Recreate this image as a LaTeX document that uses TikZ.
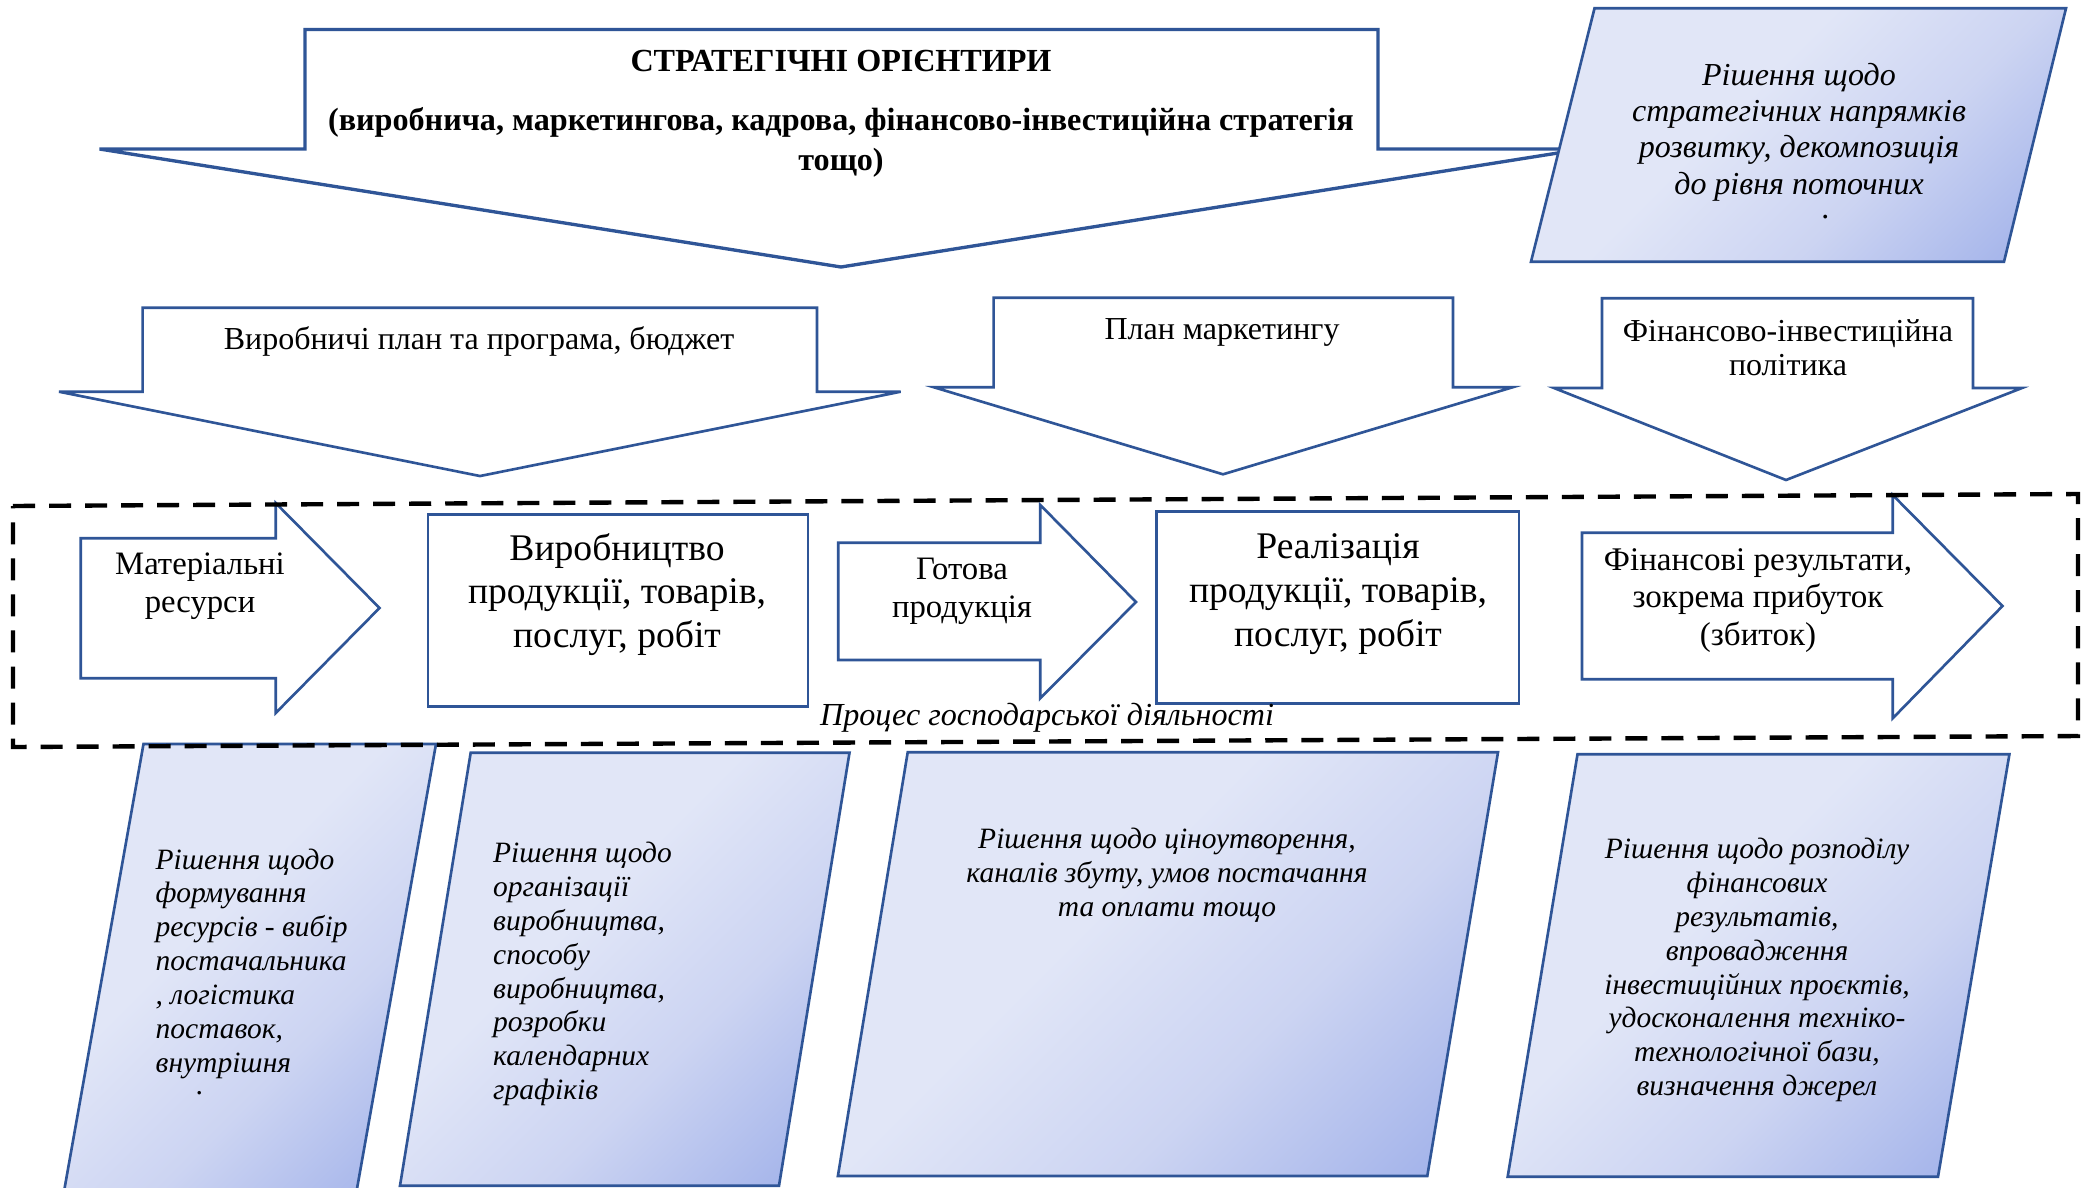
\documentclass[tikz,border=0pt]{standalone}
\usepackage{fontspec}
\setmainfont{Liberation Serif}
\definecolor{bordblue}{RGB}{47,85,151}
\definecolor{pdk}{RGB}{158,175,233}
\definecolor{pmid}{RGB}{204,212,242}
\definecolor{plt}{RGB}{225,230,247}
\pgfdeclareverticalshading{parashade}{100bp}{color(0bp)=(pdk); color(16bp)=(pdk); color(39bp)=(pmid); color(58bp)=(plt); color(100bp)=(plt)}
\newcommand{\fs}[2]{\fontsize{#1}{#2}\selectfont}
\begin{document}
\begin{tikzpicture}[x=0.01cm,y=-0.01cm,
  bigarrow/.style={draw=bordblue, fill=white, line width=0.95pt, line join=miter},
  warrow/.style={draw=bordblue, fill=white, line width=0.75pt, line join=miter},
  para/.style={draw=bordblue, line width=0.75pt, shading=parashade, shading angle=45},
  lbl/.style={inner sep=0pt, anchor=base, align=center},
  ttl/.style={lbl, font=\bfseries\fs{9.15pt}{11.1pt}},
  reg/.style={lbl, font=\fs{9.1pt}{9.4pt}},
  procfont/.style={lbl, font=\fs{9.3pt}{10.8pt}},
  bigfont/.style={lbl, font=\fs{10.7pt}{12.4pt}},
  itTR/.style={lbl, font=\itshape\fs{9.1pt}{10.24pt}},
  itP/.style={lbl, font=\itshape\fs{8.39pt}{9.62pt}},
  dashrect/.style={draw=black, line width=1.25pt, dash pattern=on 0.22cm off 0.14cm}
]
\path[use as bounding box] (0,0) rectangle (2093,1187);
\clip (0,0) rectangle (2093,1187);
\fill[white] (0,0) rectangle (2093,1187);

% top big arrow
\draw[bigarrow] (99.5,149) -- (305,149) -- (305,29.5) -- (1378,29.5) -- (1378,149) -- (1583,149) -- (841,267) -- cycle;
\node[ttl] (title) at (841,71.5) {СТРАТЕГІЧНІ ОРІЄНТИРИ};
\node[ttl] (subtitle) at (841,170) {(виробнича, маркетингова, кадрова, фінансово-інвестиційна стратегія\\тощо)};

% top-right parallelogram
\shadedraw[para] (1594.5,8.3) -- (2066,8.3) -- (2004,261.7) -- (1531,261.7) -- cycle;
\node[itTR] (trtext) at (1799,194) {Рішення щодо\\стратегічних напрямків\\розвитку, декомпозиція\\до рівня поточних};
\node[itTR] (trdot) at (1826,218) {.};

% second row arrows
\draw[warrow] (59,391.7) -- (142.6,391.7) -- (142.6,307.7) -- (817,307.7) -- (817,391.7) -- (900.7,391.7) -- (480,476) -- cycle;
\node[reg] (plan1) at (479,349) {Виробничі план та програма, бюджет};
\draw[warrow] (934,387.3) -- (993.6,387.3) -- (993.6,297.7) -- (1453,297.7) -- (1453,387.3) -- (1512.5,387.3) -- (1223,474.3) -- cycle;
\node[reg] (plan2) at (1222,339) {План маркетингу};
\draw[warrow] (1554,388) -- (1602,388) -- (1602,298.3) -- (1973,298.3) -- (1973,388) -- (2022,388) -- (1786,480) -- cycle;
\node[reg] (plan3) at (1788,375) {Фінансово-інвестиційна\\політика};

% bottom parallelograms
\shadedraw[para] (143.5,744) -- (436,744) -- (355,1200) -- (62.5,1200) -- cycle;
\node[itP, anchor=base west, align=left] (p1text) at (155,1072) {Рішення щодо\\формування\\ресурсів - вибір\\постачальника\\, логістика\\поставок,\\внутрішня};
\node[itP] (p1dot) at (200,1094) {.};
\shadedraw[para] (470.7,752.7) -- (849.5,752.7) -- (779,1185.7) -- (400,1185.7) -- cycle;
\node[itP, anchor=base west, align=left] (p2text) at (492.5,1099.6) {Рішення щодо\\організації\\виробництва,\\способу\\виробництва,\\розробки\\календарних\\графіків};
\shadedraw[para] (907.7,752.3) -- (1498,752.3) -- (1427.3,1176) -- (837.9,1176) -- cycle;
\node[itP] (p3text) at (1167,916.6) {Рішення щодо ціноутворення,\\каналів збуту, умов постачання\\та оплати тощо};
\shadedraw[para] (1577.5,754.3) -- (2009.4,754.3) -- (1938,1176.7) -- (1507.7,1176.7) -- cycle;
\node[itP] (p4text) at (1757,1095.6) {Рішення щодо розподілу\\фінансових\\результатів,\\впровадження\\інвестиційних проєктів,\\удосконалення техніко-\\технологічної бази,\\визначення джерел};

% process row
\draw[warrow] (80.7,538.3) -- (275.7,538.3) -- (275.7,503) -- (379.5,608) -- (275.7,713) -- (275.7,678.3) -- (80.7,678.3) -- cycle;
\node[procfont] (mat) at (200,612.5) {Матеріальні\\ресурси};
\draw[warrow] (428,514.3) rectangle (808,706.7);
\node[bigfont] (prod) at (617,647.5) {Виробництво\\продукції, товарів,\\послуг, робіт};
\draw[warrow] (838.3,542.7) -- (1040.3,542.7) -- (1040.3,505) -- (1136,602) -- (1040.3,698.3) -- (1040.3,660) -- (838.3,660) -- cycle;
\node[procfont] (got) at (962,617.5) {Готова\\продукція};
\draw[warrow] (1156.4,511.7) rectangle (1519,703.3);
\node[bigfont] (real) at (1338,646) {Реалізація\\продукції, товарів,\\послуг, робіт};
\draw[warrow] (1582,532.7) -- (1892.7,532.7) -- (1892.7,495) -- (2002.5,606) -- (1892.7,718.3) -- (1892.7,679.3) -- (1582,679.3) -- cycle;
\node[lbl, font=\fs{9.4pt}{10.67pt}] (fin) at (1758,645.5) {Фінансові результати,\\зокрема прибуток\\(збиток)};

% dashed process frame
\draw[dashrect] (13,506) -- (2078,494) -- (2078,736) -- (13,747) -- cycle;
\node[lbl, font=\itshape\fs{9.13pt}{10pt}] (proc) at (1047,725) {Процес господарської діяльності};
\end{tikzpicture}
\end{document}
